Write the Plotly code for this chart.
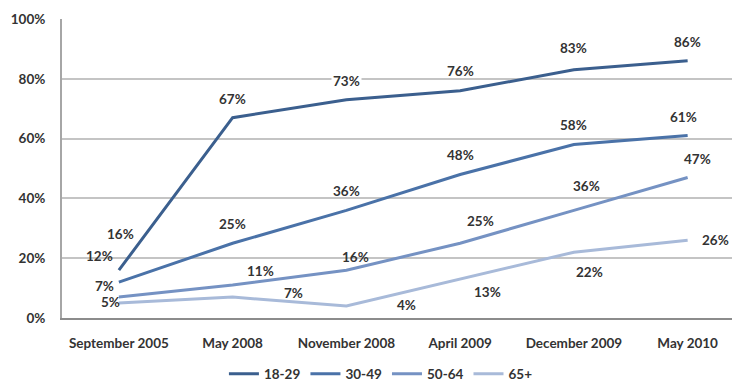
import plotly.graph_objects as go

# Survey waves (x categories)
waves = ["September 2005", "May 2008", "November 2008", "April 2009", "December 2009", "May 2010"]

# Share of each age group, percent
age_18_29 = [16, 67, 73, 76, 83, 86]
age_30_49 = [12, 25, 36, 48, 58, 61]
age_50_64 = [7, 11, 16, 25, 36, 47]
age_65_up = [5, 7, 4, 13, 22, 26]

series_names = ["18-29", "30-49", "50-64", "65+"]
series_values = [age_18_29, age_30_49, age_50_64, age_65_up]
colors = ["#3b5f8e", "#4a72a8", "#7592c3", "#a8bad9"]

# Pixel offsets (dx, dy) for each data label, per series
label_offsets = [
    [(2, 36), (0, 19), (0, 19), (0, 20), (0, 22), (0, 19)],
    [(-19, 26), (0, 19), (0, 19), (0, 19), (0, 20), (-4, 19)],
    [(-14, 11), (28, 14), (9, 13), (20, 22), (13, 24), (10, 18)],
    [(-8, 1), (61, 4), (60, 1), (27, -13), (16, -20), (28, 0)],
]

label_font = dict(family="Lato, sans-serif", size=13.5, color="#333333", weight="bold")

fig = go.Figure()
for name, vals, col in zip(series_names, series_values, colors):
    fig.add_trace(go.Scatter(
        x=waves, y=vals, name=name, mode="lines",
        line=dict(color=col, width=3),
    ))

annotations = []
for si, vals in enumerate(series_values):
    for i, v in enumerate(vals):
        dx, dy = label_offsets[si][i]
        annotations.append(dict(
            x=waves[i], y=v, xref="x", yref="y", text=f"{v}%",
            showarrow=False, xshift=dx, yshift=dy, font=label_font,
            bgcolor="white" if (si == 0 and i == 2) else None,
        ))

fig.update_layout(
    width=732, height=392,
    margin=dict(l=62, r=0, t=19, b=74, autoexpand=False),
    plot_bgcolor="white", paper_bgcolor="white",
    showlegend=True,
    legend=dict(orientation="h", x=0.476, xanchor="center", xref="paper",
                y=0.046, yanchor="middle", yref="container", font=label_font,
                itemwidth=30, tracegroupgap=0),
    annotations=annotations,
    font=label_font,
)
fig.update_xaxes(
    type="category", range=[-0.5, 5.39],
    showline=True, linecolor="#8c8c8c", linewidth=2,
    showgrid=False, ticks="", tickfont=label_font, ticklabelstandoff=12,
)
fig.update_yaxes(
    range=[0, 100], dtick=20, ticksuffix="%",
    showgrid=True, gridcolor="#c4c4c4", gridwidth=1.5,
    showline=True, linecolor="#a6a6a6", linewidth=2,
    zeroline=False, ticks="", tickfont=label_font, ticklabelstandoff=12,
)

fig.write_html("out.html")
